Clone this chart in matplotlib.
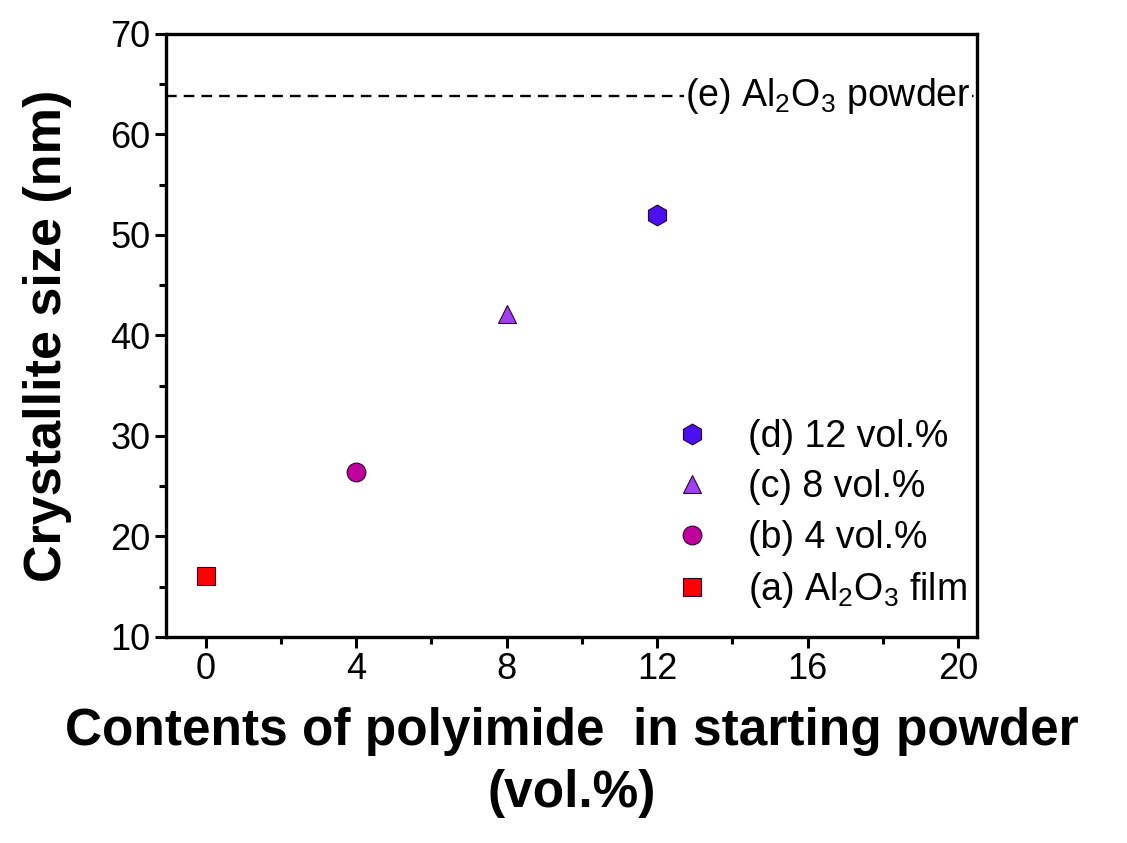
import numpy as np
import matplotlib
matplotlib.use('Agg')
import matplotlib.pyplot as plt
from matplotlib.ticker import MultipleLocator

plt.rcParams['font.family'] = ['Liberation Sans', 'DejaVu Sans']
plt.rcParams['mathtext.fontset'] = 'custom'
plt.rcParams['mathtext.rm'] = 'Liberation Sans'

# data
contents = [0, 4, 8, 12]
sizes = [16.1, 26.4, 42.1, 52.0]
labels = ['(a) Al$_2$O$_3$ film', '(b) 4 vol.%', '(c) 8 vol.%', '(d) 12 vol.%']
markers = ['s', 'o', '^', 'h']
msizes = [12.5, 13.5, 13.5, 15]
colors = ['#ff0000', '#c0009c', '#a040f0', '#4a10f0']
powder_size = 63.8
powder_label = '(e) Al$_2$O$_3$ powder'

fig = plt.figure(figsize=(11.27, 8.43), dpi=100)
ax = fig.add_axes([0.1473, 0.2444, 0.7196, 0.7153])

handles = []
for x, y, lab, m, ms, c in zip(contents, sizes, labels, markers, msizes, colors):
    h, = ax.plot([x], [y], linestyle='none', marker=m, markersize=ms,
                 markerfacecolor=c, markeredgecolor='#300030', markeredgewidth=0.8,
                 label=lab)
    handles.append(h)

# powder reference line
ax.axhline(powder_size, color='black', linestyle=(0, (4.5, 3)), linewidth=1.7, zorder=1)
ax.text(12.75, powder_size, powder_label, fontsize=27, va='center', ha='left',
        bbox=dict(facecolor='white', edgecolor='none', pad=1), zorder=2)

ax.set_xlim(-1.05, 20.5)
ax.set_ylim(10, 70)
ax.xaxis.set_major_locator(MultipleLocator(4))
ax.xaxis.set_minor_locator(MultipleLocator(2))
ax.yaxis.set_major_locator(MultipleLocator(10))
ax.yaxis.set_minor_locator(MultipleLocator(5))

for s in ax.spines.values():
    s.set_linewidth(2.4)
ax.tick_params(which='both', direction='out', width=2.2, labelsize=26, top=False, right=False)
ax.tick_params(which='major', length=8, pad=3)
ax.tick_params(which='minor', length=5)

ax.set_xlabel('Contents of polyimide  in starting powder\n(vol.%)', fontsize=37,
              fontweight='bold', labelpad=14, linespacing=1.35)
ax.set_ylabel('Crystallite size (nm)', fontsize=37.5, fontweight='bold', labelpad=28)

leg = ax.legend(handles[::-1], [h.get_label() for h in handles[::-1]],
                loc='lower right', bbox_to_anchor=(1.025, -0.005), frameon=False,
                fontsize=27, handlelength=1.0, handletextpad=1.0, labelspacing=0.38,
                borderaxespad=0.4, markerscale=1.0)

fig.savefig('out.png', dpi=100)
